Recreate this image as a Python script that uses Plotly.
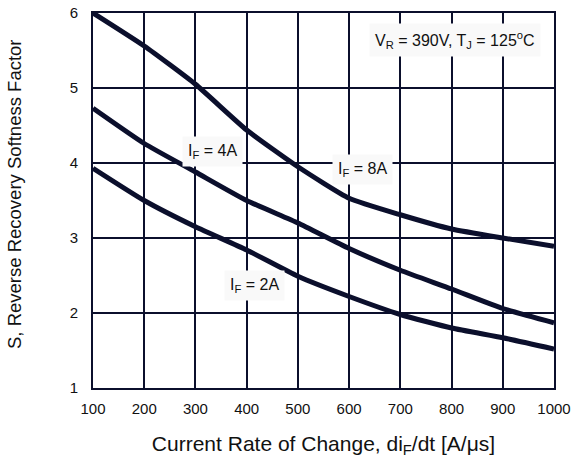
import plotly.graph_objects as go

x_vals = [100, 200, 300, 400, 500, 600, 700, 800, 900, 1000]
s_8a = [6.0, 5.56, 5.05, 4.44, 3.95, 3.53, 3.31, 3.12, 3.0, 2.89]
s_4a = [4.73, 4.26, 3.88, 3.5, 3.2, 2.86, 2.57, 2.32, 2.06, 1.87]
s_2a = [3.93, 3.5, 3.15, 2.84, 2.49, 2.22, 1.98, 1.80, 1.67, 1.52]

x_ticks = [100, 200, 300, 400, 500, 600, 700, 800, 900, 1000]
y_ticks = [1, 2, 3, 4, 5, 6]

ink = "#0b0f2c"
font = "Liberation Sans, Arial, sans-serif"
txt = "#111111"

fig = go.Figure()
for ys in (s_8a, s_4a, s_2a):
    fig.add_trace(go.Scatter(x=x_vals, y=ys, mode="lines",
                             line=dict(color=ink, width=5, shape="spline", smoothing=0.5),
                             showlegend=False, hoverinfo="skip"))

labels = [
    (806, 5.64, "V<sub>R</sub> = 390V, T<sub>J</sub> = 125<sup>o</sup>C"),
    (333, 4.15, "I<sub>F</sub> = 4A"),
    (627, 3.91, "I<sub>F</sub> = 8A"),
    (415, 2.37, "I<sub>F</sub> = 2A"),
]
for x, y, t in labels:
    fig.add_annotation(x=x, y=y, text=t, showarrow=False,
                       font=dict(family=font, size=16, color=txt),
                       bgcolor="#f9f9f9", borderpad=5)

# y-axis title placed as a rotated annotation
fig.add_annotation(xref="paper", yref="paper", x=-0.169, y=0.515,
                   text="S, Reverse Recovery Softness Factor", textangle=-90,
                   showarrow=False, xanchor="center", yanchor="middle",
                   font=dict(family=font, size=18.5, color=txt))

fig.update_xaxes(range=[100, 1000], tickvals=x_ticks, showgrid=True, gridcolor=ink, gridwidth=2,
                 showline=True, linecolor=ink, linewidth=2, mirror=True, zeroline=False,
                 ticks="", ticklabelstandoff=6, automargin=False,
                 tickfont=dict(family=font, size=15, color=txt),
                 title=dict(text="Current Rate of Change, di<sub>F</sub>/dt [A/μs]",
                            font=dict(family=font, size=21, color=txt), standoff=20))
fig.update_yaxes(range=[1, 6], tickvals=y_ticks, showgrid=True, gridcolor=ink, gridwidth=2,
                 showline=True, linecolor=ink, linewidth=2, mirror=True, zeroline=False,
                 ticks="", ticklabelstandoff=10, automargin=False,
                 tickfont=dict(family=font, size=15, color=txt))

fig.update_layout(width=571, height=461, margin=dict(l=93, r=17, t=13, b=73),
                  plot_bgcolor="white", paper_bgcolor="white")

fig.write_html("out.html")
